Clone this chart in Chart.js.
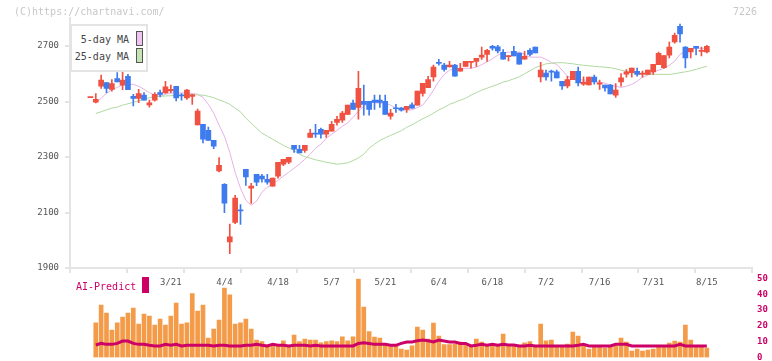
<!DOCTYPE html>
<html>
<head>
<meta charset="utf-8">
<script src="https://cdn.jsdelivr.net/npm/chart.js@4.4.1/dist/chart.umd.min.js"></script>
<style>
  html, body { margin: 0; padding: 0; background: #fff; }
  #wrap { position: relative; width: 772px; height: 361px; overflow: hidden; font-family: 'DejaVu Sans Mono', monospace; }
  canvas { position: absolute; left: 0; }
  #priceChart { top: 0; }
  #volChart { top: 260px; }
  .txt { position: absolute; white-space: nowrap; font-size: 10px; line-height: 12px; }
  #maLegend { position: absolute; left: 70px; top: 24px; width: 74px; height: 44px; border: 2px solid #e4e4e4; background: #fff; }
  #maLegend .txt { color: #444; right: 17px; }
  .swatch { position: absolute; width: 5px; border: 1px solid #555; }
</style>
</head>
<body>
<div id="wrap">
  <canvas id="priceChart" width="772" height="300"></canvas>
  <canvas id="volChart" width="772" height="120"></canvas>
  <div class="txt" style="left:14px; top:6px; color:#c8c8c8;">(C)https://chartnavi.com/</div>
  <div class="txt" style="right:15px; top:6px; color:#c8c8c8;">7226</div>
  <div id="maLegend">
    <div class="txt" style="top:8px;">5-day MA</div>
    <div class="swatch" style="left:64px; top:5px; height:13px; background:#f0c4f0;"></div>
    <div class="txt" style="top:25px;">25-day MA</div>
    <div class="swatch" style="left:64px; top:22px; height:13px; background:#c4e4b4;"></div>
  </div>
  <div class="txt" style="left:76px; top:281px; color:#cc0066;">AI-Predict</div>
  <div style="position:absolute; left:142px; top:277px; width:7px; height:16px; background:#cc0066;"></div>
</div>
<script>
// daily candles, first one (day -1) is left of the volume window
const opens = [2514,
  2498,2555,2568,2544,2583,2559,2591,2519,2511,2523,2488,2505,2532,2531,2538,2555,2523,2513,2518,2416,
  2418,2396,2360,2250,2202,1994,2064,2110,2256,2188,2238,2231,2220,2195,2231,2274,2281,2342,2328,2324,
  2371,2386,2400,2382,2393,2425,2433,2454,2494,2479,2501,2501,2505,2505,2501,2447,2477,2476,2472,2488,
  2487,2529,2550,2589,2641,2631,2625,2631,2609,2627,2641,2645,2660,2670,2699,2697,2677,2662,2681,2675,
  2653,2685,2696,2589,2603,2609,2607,2573,2556,2579,2609,2563,2560,2588,2563,2559,2559,2523,2571,2599,
  2604,2609,2599,2598,2607,2633,2622,2667,2715,2771,2696,2679,2699,2681,2679];
const highs = [2514,
  2529,2595,2568,2579,2604,2613,2598,2526,2544,2532,2505,2532,2541,2573,2559,2555,2529,2544,2526,2473,
  2418,2408,2360,2298,2204,2058,2162,2129,2256,2205,2238,2238,2238,2224,2281,2292,2299,2342,2342,2342,
  2400,2418,2404,2396,2429,2447,2465,2487,2505,2609,2559,2501,2523,2523,2523,2472,2490,2479,2483,2495,
  2538,2566,2591,2631,2652,2638,2645,2634,2638,2645,2645,2656,2696,2688,2703,2703,2687,2666,2699,2675,
  2681,2691,2696,2641,2613,2613,2613,2573,2591,2609,2624,2589,2588,2595,2577,2559,2562,2565,2601,2615,
  2621,2621,2610,2613,2634,2678,2666,2714,2747,2779,2698,2692,2699,2696,2703];
const lows = [2514,
  2495,2547,2531,2537,2571,2543,2543,2484,2496,2505,2480,2501,2517,2529,2532,2502,2505,2508,2490,2416,
  2351,2360,2330,2246,2099,1952,2060,2057,2198,2133,2197,2209,2202,2195,2224,2269,2276,2317,2315,2317,
  2371,2371,2368,2371,2393,2415,2425,2454,2472,2436,2451,2451,2472,2479,2454,2436,2461,2465,2461,2476,
  2487,2519,2550,2573,2631,2609,2625,2591,2609,2627,2620,2627,2652,2645,2685,2675,2653,2646,2664,2635,
  2653,2664,2675,2571,2577,2573,2585,2544,2549,2579,2556,2558,2560,2563,2544,2537,2527,2515,2555,2588,
  2588,2591,2588,2598,2598,2633,2619,2657,2710,2714,2621,2657,2668,2664,2675];
const closes = [2514,
  2508,2577,2547,2565,2571,2577,2543,2511,2529,2505,2495,2526,2526,2553,2544,2513,2520,2541,2524,2466,
  2364,2360,2339,2270,2134,2012,2152,2106,2228,2195,2209,2221,2209,2224,2281,2292,2299,2328,2315,2342,
  2386,2382,2382,2396,2418,2436,2458,2487,2472,2548,2490,2472,2497,2497,2454,2458,2474,2469,2483,2476,
  2538,2566,2579,2624,2637,2616,2631,2591,2620,2645,2645,2656,2667,2685,2692,2682,2653,2666,2664,2635,
  2663,2670,2675,2613,2589,2606,2585,2556,2579,2609,2567,2570,2588,2571,2567,2549,2527,2541,2585,2607,
  2621,2598,2603,2613,2634,2674,2666,2696,2739,2744,2657,2692,2692,2684,2699];

// moving averages, day 0 .. 114
const ma5 = [2495,2512,2530,2542,2551,2560,2562,2562,2555,2544,2532,2523,2519,2526,2530,2531,2531,2531,2529,2526,
  2515,2490,2458,2415,2375,2317,2245,2187,2144,2126,2141,2173,2191,2202,2216,2231,2245,2260,2274,2292,
  2310,2332,2346,2368,2382,2396,2411,2423,2443,2465,2483,2497,2496,2494,2494,2487,2476,2472,2469,2470,
  2478,2487,2512,2541,2573,2598,2613,2618,2620,2620,2620,2624,2633,2643,2654,2667,2676,2678,2678,2678,
  2670,2660,2660,2660,2652,2641,2634,2613,2591,2584,2580,2577,2577,2573,2570,2566,2559,2555,2551,2555,
  2562,2573,2588,2595,2606,2613,2620,2631,2645,2670,2681,2688,2692,2692,2688];
const ma25 = [2457,2463,2470,2476,2480,2487,2492,2497,2503,2508,2514,2517,2519,2520,2521,2523,2524,2525,2525,2524,
  2523,2519,2514,2506,2499,2490,2476,2463,2440,2422,2404,2386,2375,2364,2353,2342,2333,2324,2310,2301,
  2296,2290,2286,2281,2278,2274,2276,2279,2287,2297,2310,2332,2346,2360,2369,2378,2386,2395,2407,2416,
  2427,2438,2447,2458,2470,2479,2490,2497,2505,2512,2523,2532,2541,2548,2555,2562,2570,2575,2582,2589,
  2600,2611,2622,2629,2636,2638,2640,2640,2638,2636,2633,2631,2629,2627,2625,2624,2622,2618,2613,2609,
  2604,2600,2598,2598,2598,2598,2598,2598,2600,2604,2607,2611,2616,2622,2627];

// volume panel, day 0 .. 114
const volume = [22.0,33.1,28.1,17.4,22.0,25.6,28.1,31.3,21.2,27.5,26.2,20.6,24.3,20.6,26.2,34.4,21.2,22.0,40.3,29.4,
  33.1,12.4,18.0,23.7,43.8,39.6,21.2,22.0,24.3,18.0,11.1,10.1,8.0,8.0,8.4,10.7,7.8,14.3,10.1,11.8,
  11.1,11.1,9.4,10.1,10.7,10.1,13.2,10.7,13.2,49.5,31.9,16.4,13.0,12.4,9.0,8.0,7.5,5.5,4.8,7.4,
  19.3,17.4,11.8,21.8,13.6,8.2,8.2,8.6,9.9,8.6,7.4,11.8,9.9,8.2,8.2,7.8,14.9,7.8,7.8,7.8,
  9.4,10.1,7.4,21.2,10.7,11.1,7.4,7.4,8.6,16.2,13.6,7.4,5.5,7.4,7.4,6.1,7.4,7.4,12.4,9.9,
  4.2,5.5,4.2,4.8,5.5,7.4,7.4,9.2,10.5,9.9,20.6,11.1,7.4,7.4,6.1];
const aiPredict = [8.0,9.0,8.4,8.4,9.0,10.5,10.5,9.0,8.4,8.4,7.8,7.4,7.4,8.4,7.8,8.4,7.4,7.8,7.8,7.8,
  7.8,7.8,7.4,7.8,7.8,7.4,7.4,7.4,7.8,7.8,8.4,7.8,7.4,8.4,7.8,7.8,7.4,7.8,7.8,7.8,
  7.4,7.8,7.4,7.4,7.4,7.4,7.4,7.4,7.4,9.0,9.4,9.0,8.4,8.4,8.4,7.8,7.8,9.0,9.9,9.9,
  10.7,11.1,10.7,9.9,11.1,10.5,9.9,9.9,9.0,9.0,7.4,7.8,8.4,7.8,8.4,7.8,8.4,8.0,8.0,7.4,
  7.4,7.8,7.4,7.4,7.4,7.4,7.4,7.4,7.4,7.4,7.8,8.4,7.4,7.4,7.4,7.4,7.4,8.4,8.4,8.4,
  7.4,7.4,7.4,7.4,7.4,7.4,7.4,7.4,7.4,8.4,7.4,7.4,7.4,7.4,7.4];

const tickDays = [14, 24, 34, 44, 54, 64, 74, 84, 94, 104, 114];
const tickLabels = ['3/21', '4/4', '4/18', '5/7', '5/21', '6/4', '6/18', '7/2', '7/16', '7/31', '8/15'];
const priceTicks = [1900, 2100, 2300, 2500, 2700];
const volTicks = [0, 10, 20, 30, 40, 50];

Chart.defaults.font.family = "'DejaVu Sans Mono', monospace";
Chart.defaults.animation = false;

const xMin = -4.81, xMax = 122.43;   // plot spans x 70..752
const upColor = '#f05141', downColor = '#3e7bef';
const candleColor = ctx => closes[ctx.dataIndex] >= opens[ctx.dataIndex] ? upColor : downColor;
const asDay = (arr, first) => arr.map((v, i) => ({ x: first + i, y: v }));

new Chart(document.getElementById('priceChart'), {
    type: 'bar',
    data: {
        datasets: [
            { type: 'line', xAxisID: 'x', yAxisID: 'y', data: asDay(ma5, 0), borderColor: '#e6b2e6', borderWidth: 1, pointRadius: 0, order: 4 },
            { type: 'line', xAxisID: 'x', yAxisID: 'y', data: asDay(ma25, 0), borderColor: '#b0d9a0', borderWidth: 1, pointRadius: 0, order: 3 },
            {
                xAxisID: 'x', yAxisID: 'y',
                data: lows.map((l, i) => ({ x: i - 1, y: [l, highs[i]] })),
                backgroundColor: candleColor, barThickness: 1, grouped: false, order: 2
            },
            {
                xAxisID: 'x', yAxisID: 'y',
                data: opens.map((o, i) => ({ x: i - 1, y: [o, closes[i]] })),
                backgroundColor: candleColor, barThickness: 5, minBarLength: 1, grouped: false, order: 1
            }
        ]
    },
    options: {
        responsive: false,
        devicePixelRatio: 1,
        layout: { padding: { top: 18.3, right: 20, bottom: 2, left: 0 } },
        plugins: { legend: { display: false }, tooltip: { enabled: false } },
        scales: {
            xg: {
                type: 'linear', position: 'bottom', weight: 0, min: 0, max: 682,
                afterBuildTicks: axis => { axis.ticks = []; for (let v = 0; v <= 682; v += 62) axis.ticks.push({ value: v }); },
                ticks: { display: false },
                grid: { drawOnChartArea: false, tickLength: 5, color: '#e4e4e4', lineWidth: 2 },
                border: { color: '#e4e4e4', width: 2 },
                afterFit: axis => { axis.height = 0; }
            },
            x: {
                type: 'linear', position: 'bottom', weight: 1, min: xMin, max: xMax, offset: false,
                afterBuildTicks: axis => { axis.ticks = tickDays.map(v => ({ value: v })); },
                ticks: {
                    autoSkip: false, maxRotation: 0, padding: 9, color: '#555', font: { size: 9 },
                    callback: v => tickLabels[tickDays.indexOf(v)]
                },
                grid: { display: false, drawTicks: false },
                border: { display: false },
                afterFit: axis => { axis.height = 30; }
            },
            y: {
                position: 'left', min: 1900, max: 2800,
                afterBuildTicks: axis => { axis.ticks = priceTicks.map(v => ({ value: v })); },
                ticks: { padding: 6, color: '#555', font: { size: 9 }, callback: v => String(v) },
                grid: { drawOnChartArea: false, tickLength: 5, color: '#e4e4e4', lineWidth: 2 },
                border: { color: '#e4e4e4', width: 2 },
                afterFit: axis => { axis.width = 70; }
            }
        }
    }
});

new Chart(document.getElementById('volChart'), {
    type: 'bar',
    data: {
        datasets: [
            { type: 'line', data: asDay(aiPredict, 0), borderColor: '#cc0066', borderWidth: 3, pointRadius: 0, order: 0 },
            { data: asDay(volume, 0), backgroundColor: '#f39b48', barThickness: 4, order: 1 }
        ]
    },
    options: {
        responsive: false,
        devicePixelRatio: 1,
        layout: { padding: { top: 18.3, right: 0, bottom: 22.3, left: 70 } },
        plugins: { legend: { display: false }, tooltip: { enabled: false } },
        scales: {
            x: { type: 'linear', display: false, min: xMin, max: xMax, offset: false },
            y: {
                position: 'right', min: 0, max: 50,
                afterBuildTicks: axis => { axis.ticks = volTicks.map(v => ({ value: v })); },
                ticks: { padding: 5, color: '#cc0066', font: { size: 9, weight: 'bold' } },
                grid: { drawOnChartArea: false, drawTicks: false },
                border: { display: false },
                afterFit: axis => { axis.width = 20; }
            }
        }
    }
});
</script>
</body>
</html>
